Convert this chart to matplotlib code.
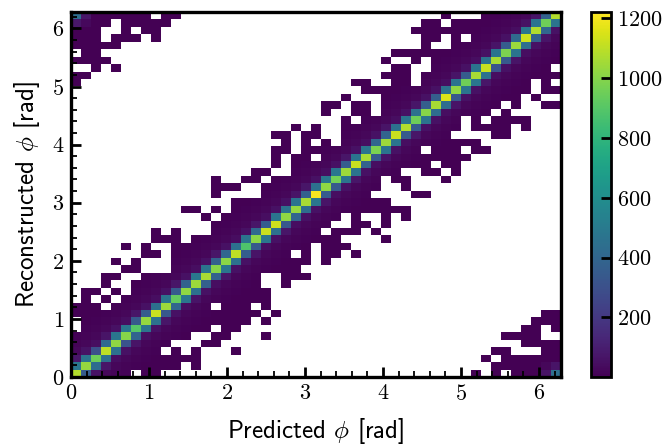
"""
Predicted vs reconstructed phi, 2D histogram read off the reference.
"""
import matplotlib
matplotlib.use("Agg")
import matplotlib.pyplot as plt
import numpy as np

plt.rcParams['font.family'] = ['cmr10', 'DejaVu Sans']
plt.rcParams['mathtext.fontset'] = 'cm'
plt.rcParams['axes.formatter.use_mathtext'] = True

###############################################################################
# Data:
n_bins = 49

# filled columns (first, last) in each row, bottom row first
row_spans = [
    [(0, 5), (7, 8), (40, 40), (42, 42), (44, 48)],
    [(0, 10), (12, 12), (42, 48)],
    [(0, 12), (41, 41), (43, 48)],
    [(0, 8), (10, 10), (12, 12), (16, 16), (42, 43), (47, 48)],
    [(0, 9), (13, 14), (45, 48)],
    [(0, 11), (14, 15), (19, 19), (43, 46)],
    [(1, 13), (15, 16), (45, 46), (48, 48)],
    [(1, 17), (19, 19), (46, 48)],
    [(0, 18), (20, 20), (47, 48)],
    [(0, 2), (4, 13), (15, 17), (19, 19)],
    [(1, 1), (3, 3), (5, 19)],
    [(1, 2), (4, 4), (6, 19)],
    [(3, 3), (6, 18), (21, 21)],
    [(3, 4), (7, 18), (21, 23)],
    [(5, 6), (10, 22)],
    [(4, 4), (6, 6), (10, 23), (25, 25)],
    [(7, 8), (10, 21), (23, 23), (25, 26), (28, 28)],
    [(5, 5), (7, 7), (10, 23), (25, 27)],
    [(8, 10), (12, 26), (31, 31)],
    [(8, 8), (10, 10), (14, 24), (26, 28), (30, 30)],
    [(14, 25), (28, 29), (31, 31)],
    [(13, 13), (15, 26), (28, 28), (31, 31), (33, 33)],
    [(11, 12), (14, 14), (16, 33)],
    [(16, 31)],
    [(14, 14), (19, 29), (34, 35)],
    [(14, 16), (19, 30), (33, 33)],
    [(14, 14), (17, 18), (20, 30), (32, 33), (37, 37)],
    [(18, 19), (22, 32), (35, 36), (38, 38)],
    [(20, 20), (22, 35), (37, 38)],
    [(20, 20), (22, 23), (25, 39)],
    [(20, 21), (23, 34), (36, 38), (40, 41)],
    [(21, 21), (23, 23), (25, 25), (27, 40)],
    [(20, 21), (23, 24), (27, 37), (42, 43)],
    [(22, 22), (24, 24), (27, 38), (40, 43), (45, 45)],
    [(27, 27), (29, 38), (40, 40), (42, 45)],
    [(25, 25), (28, 29), (31, 41), (43, 43)],
    [(25, 26), (28, 29), (31, 42), (44, 44), (47, 48)],
    [(27, 27), (31, 44), (46, 46)],
    [(29, 45), (47, 48)],
    [(0, 0), (28, 29), (32, 33), (35, 45), (47, 47)],
    [(0, 1), (31, 33), (35, 48)],
    [(2, 2), (4, 4), (32, 33), (36, 47)],
    [(0, 3), (31, 31), (34, 34), (36, 48)],
    [(1, 2), (32, 48)],
    [(0, 4), (35, 35), (38, 48)],
    [(0, 2), (4, 6), (8, 8), (35, 36), (38, 38), (40, 48)],
    [(0, 2), (5, 5), (7, 8), (34, 48)],
    [(0, 3), (5, 9), (35, 36), (38, 48)],
    [(0, 7), (9, 10), (37, 37), (41, 48)],
]

# counts on the diagonal, one per column
diagonal = [1080, 1030, 950, 1100, 1020, 1000, 900, 1030, 1120, 1040,
            930, 1020, 1040, 1060, 1000, 1010, 1100, 880, 1010, 1120,
            1130, 1020, 1030, 1060, 1210, 1020, 960, 1040, 1120, 1060,
            980, 1040, 1120, 1080, 950, 1000, 1060, 1150, 1020, 950,
            1060, 1120, 1060, 980, 1040, 1130, 1080, 950, 1080]

# one row above the diagonal, for columns 0 to 47
above_1 = [480, 470, 300, 420, 480, 480, 340, 350, 450, 470,
           350, 380, 480, 470, 380, 400, 450, 470, 420, 350,
           470, 460, 470, 370, 450, 480, 480, 350, 470, 470,
           400, 390, 450, 470, 450, 360, 360, 450, 470, 350,
           470, 460, 470, 350, 420, 480, 470, 380]

# one row below the diagonal, for columns 1 to 48
below_1 = [350, 430, 450, 450, 320, 390, 470, 450, 330, 400,
           480, 450, 370, 380, 480, 450, 360, 340, 480, 450,
           330, 400, 430, 480, 350, 340, 470, 470, 380, 340,
           470, 470, 340, 350, 470, 430, 430, 330, 470, 480,
           450, 320, 340, 470, 440, 380, 400, 470]

# two rows above the diagonal, for columns 0 to 46
above_2 = [70, 60, 45, 65, 55, 45, 70, 55, 45, 55,
           70, 55, 45, 55, 70, 55, 40, 55, 70, 45,
           55, 55, 65, 70, 55, 45, 55, 70, 55, 45,
           55, 65, 45, 55, 70, 55, 55, 45, 65, 55,
           45, 55, 65, 55, 45, 55, 65]

# two rows below the diagonal, for columns 2 to 48
below_2 = [55, 70, 45, 55, 65, 45, 55, 70, 55, 45,
           65, 55, 45, 70, 55, 55, 65, 45, 55, 70,
           45, 55, 55, 65, 45, 55, 70, 55, 45, 65,
           55, 45, 70, 55, 55, 45, 65, 55, 55, 70,
           45, 55, 65, 45, 55, 65, 55]

# typical count against distance from the diagonal, 3 to 10 bins out
tail = [22, 12, 7, 5, 3, 2, 2, 1]
far_count = 1

# corner cells where the angle wraps round: (row, column, count)
corners = [(48, 0, 430), (48, 1, 70), (47, 0, 75), (47, 1, 25),
           (0, 48, 440), (0, 47, 60), (1, 48, 65), (1, 47, 22)]

x_ticks = [0, 1, 2, 3, 4, 5, 6]
y_ticks = [0, 1, 2, 3, 4, 5, 6]
cbar_ticks = [200, 400, 600, 800, 1000, 1200]

###############################################################################
# Build the histogram:
counts = np.full((n_bins, n_bins), np.nan)
for r, spans in enumerate(row_spans):
    for first, last in spans:
        for c in range(first, last + 1):
            dist = abs(r - c)
            if 3 <= dist < 3 + len(tail):
                counts[r, c] = tail[dist - 3]
            else:
                counts[r, c] = far_count

for c in range(n_bins):
    counts[c, c] = diagonal[c]
for c, v in enumerate(above_1):
    counts[c + 1, c] = v
for c, v in enumerate(below_1):
    counts[c, c + 1] = v
for c, v in enumerate(above_2):
    counts[c + 2, c] = v
for c, v in enumerate(below_2):
    counts[c, c + 2] = v
for r, c, v in corners:
    counts[r, c] = v

edges = np.linspace(0, 2 * np.pi, n_bins + 1)

###############################################################################
# Plot:
fig = plt.figure(figsize=(6.64, 4.47), dpi=100)
ax = fig.add_axes([71 / 664, 1 - 377 / 447, 490 / 664, 365 / 447])
cax = fig.add_axes([590.5 / 664, 1 - 377 / 447, 20 / 664, 365 / 447])

mesh = ax.pcolormesh(edges, edges, np.ma.masked_invalid(counts),
                     cmap='viridis', vmin=1, vmax=1221)

ax.set_xlim(0, 2 * np.pi)
ax.set_ylim(0, 2 * np.pi)
ax.set_xticks(x_ticks)
ax.set_yticks(y_ticks)
ax.set_xticks(np.arange(0, 6.3, 0.2), minor=True)
ax.set_yticks(np.arange(0, 6.3, 0.2), minor=True)
ax.tick_params(which='major', direction='in', length=7, width=2,
               labelsize=16, pad=5)
ax.tick_params(which='minor', direction='in', length=4, width=1.3)
ax.set_xlabel(r'Predicted $\phi$ [rad]', family='cmss10', fontsize=18, labelpad=9)
ax.set_ylabel(r'Reconstructed $\phi$ [rad]', family='cmss10', fontsize=18, labelpad=7)
for spine in ax.spines.values():
    spine.set_linewidth(2.4)

cbar = fig.colorbar(mesh, cax=cax)
cbar.set_ticks(cbar_ticks)
cbar.ax.minorticks_off()
cbar.ax.tick_params(direction='in', length=7, width=2, labelsize=16, pad=5)
cbar.outline.set_linewidth(2.0)

fig.savefig('out.png', dpi=100)
